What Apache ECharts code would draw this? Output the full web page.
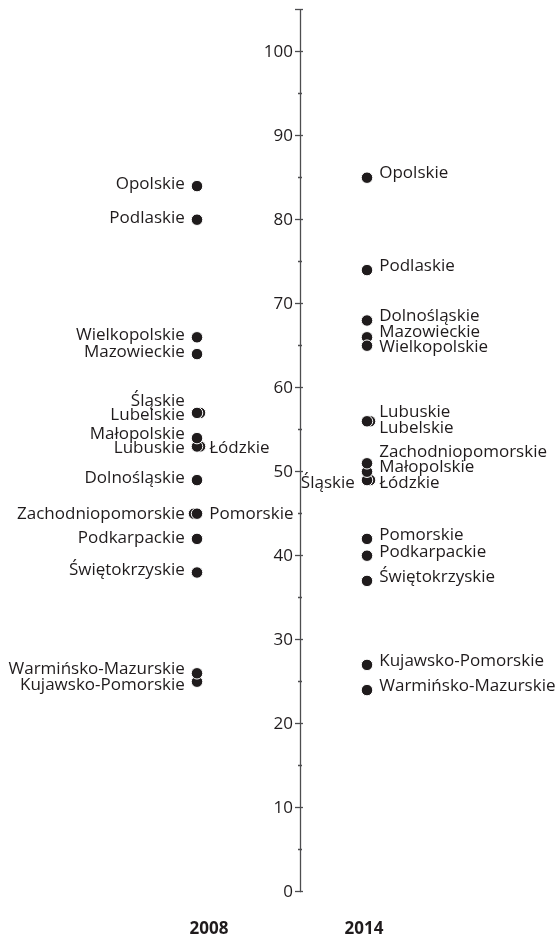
<!DOCTYPE html>
<html>
<head>
    <meta charset="utf-8">
    <title>Województwa 2008 / 2014</title>
    <script src="https://cdn.jsdelivr.net/npm/echarts@6/dist/echarts.min.js"></script>
    <style>
        body { margin: 0; background: #ffffff; }
        #main { width: 557px; height: 939px; }
    </style>
</head>
<body>
<div id="main"></div>
<script>
// lata (kategorie osi X)
const years = ['2008', '2014'];

// województwa - kolejność ma znaczenie przy nakładających się punktach
const regions = [
  'Opolskie', 'Podlaskie', 'Dolnośląskie', 'Mazowieckie', 'Wielkopolskie',
  'Śląskie', 'Łódzkie', 'Lubuskie', 'Lubelskie', 'Małopolskie',
  'Zachodniopomorskie', 'Pomorskie', 'Podkarpackie', 'Świętokrzyskie',
  'Kujawsko-Pomorskie', 'Warmińsko-Mazurskie'
];

const values2008 = [84, 80, 49, 64, 66, 57, 53, 53, 57, 54, 45, 45, 42, 38, 25, 26];
const values2014 = [85, 74, 68, 66, 65, 49, 49, 56, 56, 50, 51, 42, 40, 37, 27, 24];

// podpisy osi Y
const yTickLabels = [0, 10, 20, 30, 40, 50, 60, 70, 80, 90, 100];

// rozmieszczenie podpisów (tylko wygląd)
const side2008 = { 'Łódzkie': 'right', 'Pomorskie': 'right' };
const side2014 = { 'Śląskie': 'left' };
const dy2008 = {
  'Opolskie': -2, 'Podlaskie': -2, 'Wielkopolskie': -2, 'Mazowieckie': -2,
  'Śląskie': -12, 'Lubelskie': 2, 'Małopolskie': -4, 'Lubuskie': 2, 'Łódzkie': 2,
  'Dolnośląskie': -2, 'Podkarpackie': -1, 'Świętokrzyskie': -2,
  'Warmińsko-Mazurskie': -4, 'Kujawsko-Pomorskie': 3
};
const dy2014 = {
  'Opolskie': -5, 'Podlaskie': -4, 'Dolnośląskie': -4, 'Mazowieckie': -5, 'Wielkopolskie': 1,
  'Lubuskie': -9, 'Lubelskie': 7, 'Zachodniopomorskie': -11, 'Małopolskie': -5,
  'Łódzkie': 3, 'Śląskie': 3, 'Pomorskie': -4, 'Podkarpackie': -4,
  'Świętokrzyskie': -4, 'Kujawsko-Pomorskie': -4, 'Warmińsko-Mazurskie': -4
};
// lekkie przesunięcie nakładających się kropek
const dx2008 = { 'Śląskie': 3, 'Łódzkie': 3, 'Zachodniopomorskie': -3 };
const dx2014 = { 'Lubuskie': 3, 'Śląskie': 3 };

const ink = '#1f1b1c';
const font = '"Open Sans", sans-serif';

function buildPoints(year, vals, side, dy, dx, defSide) {
  return regions.map((r, i) => {
    const ox = dx[r] || 0;
    return {
      name: r,
      value: [year, vals[i]],
      symbolOffset: [ox, 0],
      label: { position: side[r] || defSide, offset: [-ox, dy[r] || 0] }
    };
  });
}

function pointSeries(data) {
  return {
    type: 'scatter',
    data: data,
    symbol: 'circle',
    symbolSize: 11.5,
    itemStyle: { color: ink, borderColor: '#ffffff', borderWidth: 1, opacity: 1 },
    label: {
      show: true,
      formatter: '{b}',
      distance: 6,
      color: ink,
      fontFamily: font,
      fontSize: 17
    },
    emphasis: { disabled: true },
    animation: false
  };
}

const yBase = {
  type: 'value',
  min: 0,
  max: 105,
  interval: 10,
  position: 'left',
  offset: -188,
  splitLine: { show: false },
  minorSplitLine: { show: false }
};

const option = {
  animation: false,
  grid: { left: 112, right: 105, top: 9.7, bottom: 47.3 },
  xAxis: {
    type: 'category',
    data: years,
    axisLine: { show: false },
    axisTick: { show: false },
    axisLabel: {
      margin: 29,
      formatter: v => (v === '2008' ? '{a|' + v + '}' : '{b|' + v + '}'),
      rich: {
        a: { fontFamily: font, fontSize: 17, fontWeight: 'bold', color: ink, padding: [0, 0, 0, 24] },
        b: { fontFamily: font, fontSize: 17, fontWeight: 'bold', color: ink, padding: [0, 6, 0, 0] }
      }
    }
  },
  yAxis: [
    Object.assign({}, yBase, {
      axisLine: { show: true, lineStyle: { color: '#4d4d4f', width: 1.3 } },
      axisTick: { show: true, length: 5, lineStyle: { color: '#4d4d4f', width: 1.3 } },
      minorTick: { show: true, splitNumber: 2, length: 2, lineStyle: { color: '#4d4d4f', width: 1.3 } },
      axisLabel: {
        margin: 7,
        color: ink,
        fontFamily: font,
        fontSize: 17,
        formatter: v => (yTickLabels.indexOf(v) >= 0 ? String(v) : '')
      }
    }),
    Object.assign({}, yBase, {
      axisLine: { show: false },
      axisTick: { show: true, inside: true, length: 3, lineStyle: { color: '#4d4d4f', width: 1.3 } },
      minorTick: { show: true, splitNumber: 2, length: 2, lineStyle: { color: '#4d4d4f', width: 1.3 } },
      axisLabel: { show: false }
    })
  ],
  series: [
    pointSeries(buildPoints('2008', values2008, side2008, dy2008, dx2008, 'left')),
    pointSeries(buildPoints('2014', values2014, side2014, dy2014, dx2014, 'right'))
  ]
};

const chart = echarts.init(document.getElementById('main'));
chart.setOption(option);
</script>
</body>
</html>
